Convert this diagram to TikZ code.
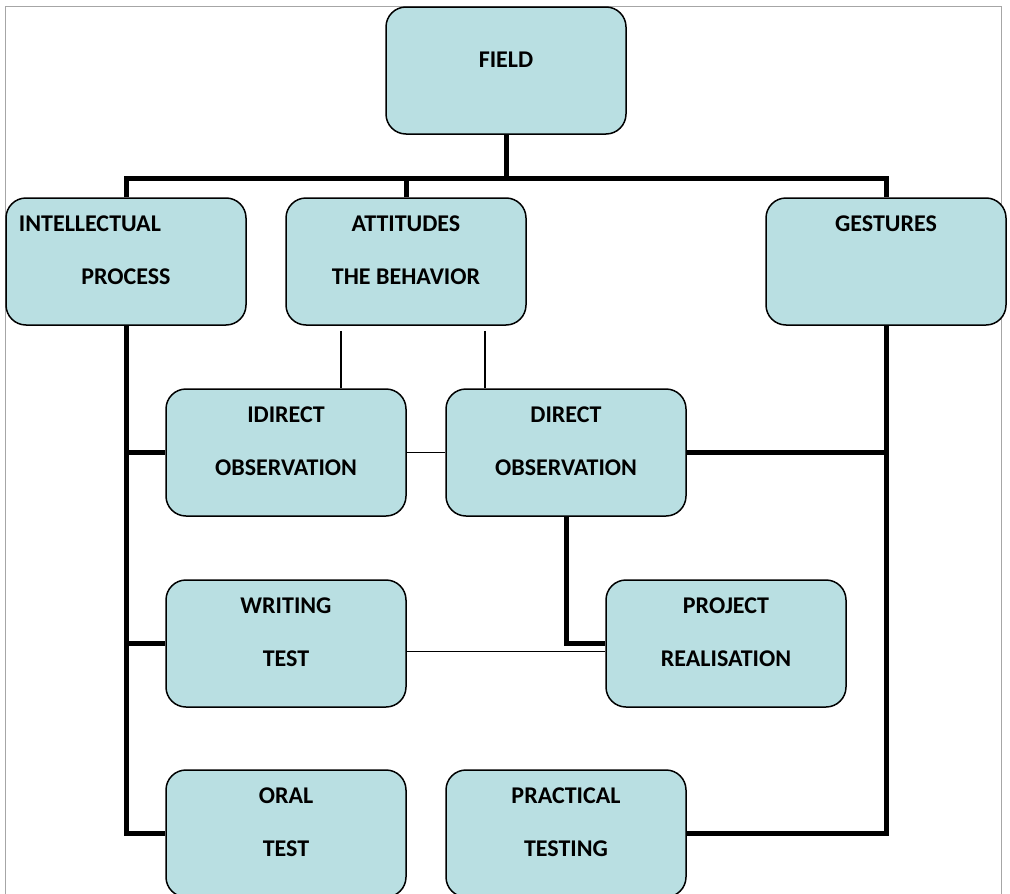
\documentclass[tikz,border=0pt]{standalone}
\usepackage{fontspec}
\setmainfont{Carlito}
\definecolor{boxfill}{RGB}{185,223,226}
\newcommand{\boxtext}[2][18pt]{\parbox[c][127pt][t]{240pt}{\centering\bfseries\fontsize{24}{53}\selectfont\vspace*{#1}#2}}

\begin{document}
\begin{tikzpicture}[x=1pt,y=-1pt,
  box/.style={draw,line width=1.5pt,rounded corners=20pt,fill=boxfill,inner sep=0pt},
  trunk/.style={line width=5pt},
  link/.style={line width=1.5pt}]
\useasboundingbox (0,0) rectangle (1010,894);
\draw[gray!70,line width=0.8pt] (5,6) rectangle (1001,910);

% top level
\node[box] (field) at (506,70.5) {\boxtext[45pt]{FIELD}};
\node[box] (intel) at (126,261.5) {\boxtext{\makebox[\linewidth][l]{\hspace*{13pt}INTELLECTUAL}\\PROCESS}};
\node[box] (att) at (406,261.5) {\boxtext{ATTITUDES\\THE BEHAVIOR}};
\node[box] (gest) at (886,261.5) {\boxtext{GESTURES}};

% observation
\node[box] (idir) at (286,452.5) {\boxtext{IDIRECT\\OBSERVATION}};
\node[box] (dir) at (566,452.5) {\boxtext{DIRECT\\OBSERVATION}};

% tests
\node[box] (writ) at (286,643.5) {\boxtext{WRITING\\TEST}};
\node[box] (proj) at (726,643.5) {\boxtext{PROJECT\\REALISATION}};
\node[box] (oral) at (286,833.5) {\boxtext{ORAL\\TEST}};
\node[box] (prac) at (566,833.5) {\boxtext{PRACTICAL\\TESTING}};

% thick links
\coordinate (hub) at (506,178);
\draw[trunk] (field.south) -- (hub);
\draw[trunk] (intel.north) |- (hub) -| (gest.north);
\draw[trunk] (att.north) -- (att.north |- hub);
\draw[trunk] (intel.south) |- (oral.west);
\draw[trunk] (intel.south |- idir.west) -- (idir.west);
\draw[trunk] (intel.south |- writ.west) -- (writ.west);
\draw[trunk] (gest.south) |- (prac.east);
\draw[trunk] (gest.south |- dir.east) -- (dir.east);
\draw[trunk] (dir.south) |- (proj.west);

% thin links
\draw[link] ([xshift=-65pt,yshift=-5pt]att.south) -- ([xshift=-65pt]att.south |- idir.north);
\draw[link] ([xshift=79pt,yshift=-5pt]att.south) -- ([xshift=79pt]att.south |- dir.north);
\draw[link] (idir.east) -- (dir.west);
\draw[link] ([yshift=-8pt]writ.east) -- ([yshift=-8pt]proj.west);
\end{tikzpicture}
\end{document}
